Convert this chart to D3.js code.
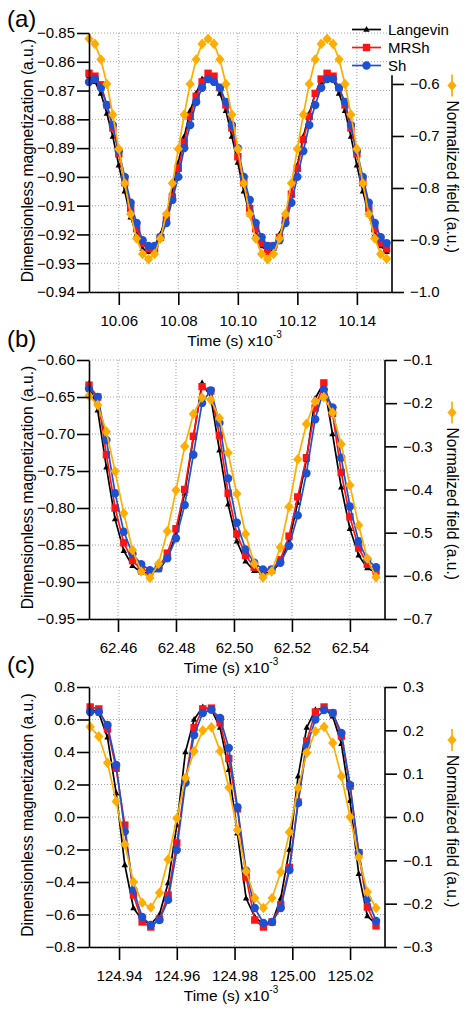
<!DOCTYPE html>
<html><head><meta charset="utf-8">
<script src="https://cdn.jsdelivr.net/npm/d3@7"></script>
<style>
body{margin:0;background:#fff}
svg{display:block}
text{font-family:"Liberation Sans",Arial,Helvetica,sans-serif}
</style>
</head><body>
<svg id="chart" width="469" height="1015"></svg>
<script>
// ---------------- DATA ----------------
const seriesNames = ["Langevin", "MRSh", "Sh"];
const fieldName = "Normalized field (a.u.)";

const timeA = [10.050,10.052,10.054,10.056,10.058,10.060,10.062,10.064,10.066,10.068,10.070,10.072,10.074,10.076,10.078,10.080,10.082,10.084,10.086,10.088,10.090,10.092,10.094,10.096,10.098,10.100,10.102,10.104,10.106,10.108,10.110,10.112,10.114,10.116,10.118,10.120,10.122,10.124,10.126,10.128,10.130,10.132,10.134,10.136,10.138,10.140,10.142,10.144,10.146,10.148,10.150];
const langevinA = [-0.865,-0.867,-0.871,-0.878,-0.886,-0.896,-0.905,-0.914,-0.920,-0.925,-0.926,-0.924,-0.920,-0.913,-0.905,-0.895,-0.886,-0.877,-0.871,-0.866,-0.865,-0.866,-0.871,-0.877,-0.886,-0.895,-0.905,-0.913,-0.920,-0.924,-0.926,-0.925,-0.920,-0.914,-0.905,-0.896,-0.886,-0.878,-0.871,-0.867,-0.865,-0.866,-0.871,-0.877,-0.886,-0.896,-0.905,-0.913,-0.920,-0.924,-0.926];
const mrshA = [-0.864,-0.865,-0.868,-0.875,-0.883,-0.892,-0.902,-0.911,-0.918,-0.923,-0.925,-0.925,-0.921,-0.915,-0.907,-0.897,-0.888,-0.879,-0.872,-0.867,-0.864,-0.865,-0.869,-0.875,-0.883,-0.893,-0.902,-0.911,-0.918,-0.923,-0.926,-0.924,-0.921,-0.915,-0.906,-0.897,-0.887,-0.879,-0.871,-0.866,-0.864,-0.865,-0.869,-0.875,-0.883,-0.892,-0.902,-0.911,-0.918,-0.923,-0.925];
const shA = [-0.867,-0.866,-0.869,-0.875,-0.882,-0.891,-0.900,-0.909,-0.916,-0.922,-0.924,-0.924,-0.921,-0.916,-0.908,-0.900,-0.890,-0.882,-0.874,-0.869,-0.866,-0.867,-0.869,-0.874,-0.882,-0.890,-0.900,-0.908,-0.916,-0.921,-0.924,-0.924,-0.922,-0.916,-0.909,-0.900,-0.891,-0.882,-0.875,-0.869,-0.866,-0.866,-0.869,-0.874,-0.882,-0.891,-0.900,-0.909,-0.916,-0.921,-0.923];
const fieldA = [-0.513,-0.523,-0.553,-0.600,-0.659,-0.725,-0.791,-0.850,-0.897,-0.927,-0.937,-0.927,-0.897,-0.850,-0.791,-0.725,-0.659,-0.600,-0.553,-0.523,-0.513,-0.523,-0.553,-0.600,-0.659,-0.725,-0.791,-0.850,-0.897,-0.927,-0.937,-0.927,-0.897,-0.850,-0.791,-0.725,-0.659,-0.600,-0.553,-0.523,-0.513,-0.523,-0.553,-0.600,-0.659,-0.725,-0.791,-0.850,-0.897,-0.927,-0.936];

const timeB = [62.450,62.453,62.456,62.459,62.462,62.465,62.468,62.471,62.474,62.477,62.480,62.483,62.486,62.489,62.492,62.495,62.498,62.501,62.504,62.507,62.510,62.513,62.516,62.519,62.522,62.525,62.528,62.531,62.534,62.537,62.540,62.543,62.546,62.549];
const langevinB = [-0.632,-0.668,-0.745,-0.815,-0.858,-0.878,-0.887,-0.888,-0.884,-0.868,-0.836,-0.780,-0.705,-0.631,-0.650,-0.722,-0.795,-0.845,-0.872,-0.885,-0.888,-0.886,-0.874,-0.845,-0.793,-0.735,-0.652,-0.631,-0.700,-0.772,-0.828,-0.864,-0.881,-0.887];
const mrshB = [-0.634,-0.650,-0.728,-0.800,-0.847,-0.871,-0.883,-0.886,-0.881,-0.861,-0.828,-0.775,-0.703,-0.636,-0.642,-0.702,-0.780,-0.835,-0.864,-0.880,-0.886,-0.884,-0.870,-0.838,-0.785,-0.732,-0.665,-0.631,-0.672,-0.752,-0.812,-0.854,-0.876,-0.885];
const shB = [-0.639,-0.650,-0.708,-0.780,-0.832,-0.862,-0.876,-0.884,-0.881,-0.868,-0.841,-0.796,-0.728,-0.658,-0.641,-0.685,-0.760,-0.820,-0.856,-0.874,-0.883,-0.883,-0.874,-0.851,-0.810,-0.753,-0.680,-0.640,-0.664,-0.732,-0.798,-0.845,-0.870,-0.880];
const fieldB = [-0.183,-0.204,-0.266,-0.358,-0.455,-0.540,-0.590,-0.605,-0.572,-0.497,-0.402,-0.300,-0.225,-0.187,-0.192,-0.235,-0.315,-0.410,-0.503,-0.572,-0.604,-0.590,-0.534,-0.440,-0.330,-0.248,-0.196,-0.186,-0.222,-0.295,-0.390,-0.483,-0.560,-0.603];

const timeC = [124.930,124.933,124.936,124.939,124.942,124.945,124.948,124.951,124.954,124.957,124.960,124.963,124.966,124.969,124.972,124.975,124.978,124.981,124.984,124.987,124.990,124.993,124.996,124.999,125.002,125.005,125.008,125.011,125.014,125.017,125.020,125.023,125.026,125.029];
const langevinC = [0.670,0.640,0.490,0.148,-0.295,-0.560,-0.634,-0.660,-0.600,-0.406,-0.050,0.400,0.600,0.677,0.660,0.550,0.290,-0.100,-0.500,-0.615,-0.660,-0.650,-0.500,-0.200,0.250,0.550,0.660,0.670,0.620,0.450,0.100,-0.350,-0.610,-0.660];
const mrshC = [0.677,0.665,0.542,0.300,-0.050,-0.480,-0.646,-0.677,-0.628,-0.480,-0.160,0.220,0.550,0.665,0.670,0.580,0.360,0.050,-0.370,-0.634,-0.677,-0.646,-0.540,-0.310,0.092,0.468,0.646,0.677,0.640,0.498,0.190,-0.220,-0.554,-0.670];
const shC = [0.646,0.646,0.566,0.320,-0.090,-0.449,-0.615,-0.665,-0.634,-0.510,-0.203,0.210,0.505,0.640,0.660,0.610,0.425,0.060,-0.330,-0.560,-0.652,-0.646,-0.560,-0.326,0.086,0.437,0.600,0.658,0.640,0.517,0.197,-0.220,-0.505,-0.640];
const fieldC = [0.208,0.186,0.125,0.036,-0.063,-0.150,-0.198,-0.209,-0.175,-0.098,-0.003,0.090,0.152,0.200,0.207,0.152,0.068,-0.030,-0.125,-0.187,-0.210,-0.187,-0.127,-0.035,0.067,0.148,0.198,0.208,0.171,0.094,0.000,-0.093,-0.173,-0.210];

const xTicksA = [10.06, 10.08, 10.10, 10.12, 10.14];
const xTicksB = [62.46, 62.48, 62.50, 62.52, 62.54];
const xTicksC = [124.94, 124.96, 124.98, 125.00, 125.02];
const leftTicksA = [-0.94,-0.93,-0.92,-0.91,-0.90,-0.89,-0.88,-0.87,-0.86,-0.85];
const leftTicksB = [-0.95,-0.90,-0.85,-0.80,-0.75,-0.70,-0.65,-0.60];
const leftTicksC = [-0.8,-0.6,-0.4,-0.2,0.0,0.2,0.4,0.6,0.8];
const rightTicksA = [-1.0,-0.9,-0.8,-0.7,-0.6];
const rightTicksB = [-0.7,-0.6,-0.5,-0.4,-0.3,-0.2,-0.1];
const rightTicksC = [-0.3,-0.2,-0.1,0.0,0.1,0.2,0.3];
const panelLabels = ["(a)", "(b)", "(c)"];

// ---------------- STYLE / LAYOUT ----------------
const COL = {black:"#000000", red:"#ff1414", blue:"#1e50d2", orange:"#ffad00"};
const svg = d3.select("#chart");

const panels = [
  {label:panelLabels[0], labelY:27, left:89, right:392, top:33, bottom:292,
   xDomain:[10.05,10.1518], yL:[-0.94,-0.85], yR:[-1.0,-0.502], rAxisTop:-0.583,
   xTicks:xTicksA, lTicks:leftTicksA, rTicks:rightTicksA, lFmt:".2f", rFmt:".1f",
   t:timeA, lang:langevinA, mrsh:mrshA, sh:shA, field:fieldA, legend:true},
  {label:panelLabels[1], labelY:347, left:89, right:385, top:360, bottom:619,
   xDomain:[62.45,62.5521], yL:[-0.95,-0.60], yR:[-0.7,-0.1], rAxisTop:-0.1,
   xTicks:xTicksB, lTicks:leftTicksB, rTicks:rightTicksB, lFmt:".2f", rFmt:".1f",
   t:timeB, lang:langevinB, mrsh:mrshB, sh:shB, field:fieldB, legend:false},
  {label:panelLabels[2], labelY:673, left:89, right:385, top:687, bottom:947,
   xDomain:[124.9296,125.0321], yL:[-0.8,0.8], yR:[-0.3,0.3], rAxisTop:0.3,
   xTicks:xTicksC, lTicks:leftTicksC, rTicks:rightTicksC, lFmt:".1f", rFmt:".1f",
   t:timeC, lang:langevinC, mrsh:mrshC, sh:shC, field:fieldC, legend:false}
];

function marker(sel, type, color) {
  if (type === "circle") {
    sel.append("circle").attr("r", 4.2).attr("fill", color);
  } else if (type === "square") {
    sel.append("rect").attr("x",-3.7).attr("y",-3.7).attr("width",7.4).attr("height",7.4).attr("fill", color);
  } else if (type === "triangle") {
    sel.append("path").attr("d","M0,-3.6L3.2,2.2L-3.2,2.2Z").attr("fill", color);
  } else if (type === "diamond") {
    sel.append("path").attr("d","M0,-5.3L4.6,0L0,5.3L-4.6,0Z").attr("fill", color);
  }
}

function drawSeries(g, xs, ys, xScale, yScale, color, type) {
  const pts = xs.map((t,i)=>[xScale(t), yScale(ys[i])]);
  g.append("path").attr("d", d3.line()(pts)).attr("fill","none")
   .attr("stroke", color).attr("stroke-width", 1.7).attr("stroke-linejoin","round");
  pts.forEach(p => {
    const m = g.append("g").attr("transform", `translate(${p[0]},${p[1]})`);
    marker(m, type, color);
  });
}

function styleAxis(a) {
  a.selectAll("path.domain").attr("stroke","#000").attr("stroke-width",1.6);
  a.selectAll(".tick line").attr("stroke","#000").attr("stroke-width",1.6);
  a.selectAll("text").attr("font-size","15px").attr("fill","#000")
   .attr("font-family",'"Liberation Sans",Arial,sans-serif');
}

panels.forEach(p => {
  const g = svg.append("g");
  const x = d3.scaleLinear().domain(p.xDomain).range([p.left, p.right]);
  const yL = d3.scaleLinear().domain(p.yL).range([p.bottom, p.top]);
  const yR = d3.scaleLinear().domain(p.yR).range([p.bottom, p.top]);

  const grid = g.append("g").attr("stroke","#a0a0a0").attr("stroke-width",1).attr("stroke-dasharray","1,2");
  grid.selectAll(".h").data(p.lTicks).join("line")
    .attr("x1",p.left).attr("x2",p.right).attr("y1",d=>yL(d)).attr("y2",d=>yL(d));
  grid.selectAll(".v").data(p.xTicks).join("line")
    .attr("x1",d=>x(d)).attr("x2",d=>x(d)).attr("y1",p.top).attr("y2",p.bottom);

  drawSeries(g, p.t, p.lang, x, yL, COL.black, "triangle");
  drawSeries(g, p.t, p.mrsh, x, yL, COL.red, "square");
  drawSeries(g, p.t, p.sh, x, yL, COL.blue, "circle");
  drawSeries(g, p.t, p.field, x, yR, COL.orange, "diamond");

  const ax = g.append("g").attr("transform",`translate(${p.left},0)`)
    .call(d3.axisLeft(yL).tickValues(p.lTicks).tickFormat(d3.format(p.lFmt)).tickSize(12).tickPadding(2).tickSizeOuter(0));
  styleAxis(ax);
  const ar = g.append("g").attr("transform",`translate(${p.right},0)`)
    .call(d3.axisRight(yR).tickValues(p.rTicks).tickFormat(d3.format(p.rFmt)).tickSize(12).tickPadding(6).tickSizeOuter(0));
  ar.select("path.domain").attr("d", `M0,${yR(p.yR[0])}V${yR(p.rAxisTop)}`);
  styleAxis(ar);
  const ab = g.append("g").attr("transform",`translate(0,${p.bottom})`)
    .call(d3.axisBottom(x).tickValues(p.xTicks).tickFormat(d3.format(".2f")).tickSize(13).tickPadding(10).tickSizeOuter(0));
  styleAxis(ab);

  const cy = (p.top + p.bottom) / 2;
  g.append("text").attr("transform",`translate(27,${cy - 2}) rotate(-90)`)
    .attr("text-anchor","middle").attr("dominant-baseline","central")
    .attr("font-size","15.6px").text("Dimensionless magnetization (a.u.)");

  const rx = 452;
  g.append("line").attr("x1",rx).attr("x2",rx).attr("y1",cy-88).attr("y2",cy-66)
    .attr("stroke",COL.orange).attr("stroke-width",1.7);
  marker(g.append("g").attr("transform",`translate(${rx},${cy-77})`), "diamond", COL.orange);
  g.append("text").attr("transform",`translate(${rx},${cy-62}) rotate(90)`)
    .attr("text-anchor","start").attr("dominant-baseline","central")
    .attr("font-size","15.6px").text(fieldName);

  const xt = g.append("text").attr("x",(p.left+p.right)/2 - 6).attr("y",p.bottom+54)
    .attr("text-anchor","middle").attr("font-size","15.5px");
  xt.append("tspan").text("Time (s) x10");
  xt.append("tspan").attr("dy",-8).attr("font-size","10px").text("-3");

  g.append("text").attr("x",7).attr("y",p.labelY).attr("font-size","24px").text(p.label);

  if (p.legend) {
    const rows = [[seriesNames[0],COL.black,"triangle"],[seriesNames[1],COL.red,"square"],[seriesNames[2],COL.blue,"circle"]];
    rows.forEach((r,i) => {
      const ly = 29.5 + i*18;
      g.append("line").attr("x1",352).attr("x2",381).attr("y1",ly).attr("y2",ly)
        .attr("stroke",r[1]).attr("stroke-width",1.7);
      marker(g.append("g").attr("transform",`translate(366.5,${ly})`), r[2], r[1]);
      g.append("text").attr("x",388).attr("y",ly).attr("dominant-baseline","central")
        .attr("font-size","15px").text(r[0]);
    });
  }
});
</script>
</body></html>
